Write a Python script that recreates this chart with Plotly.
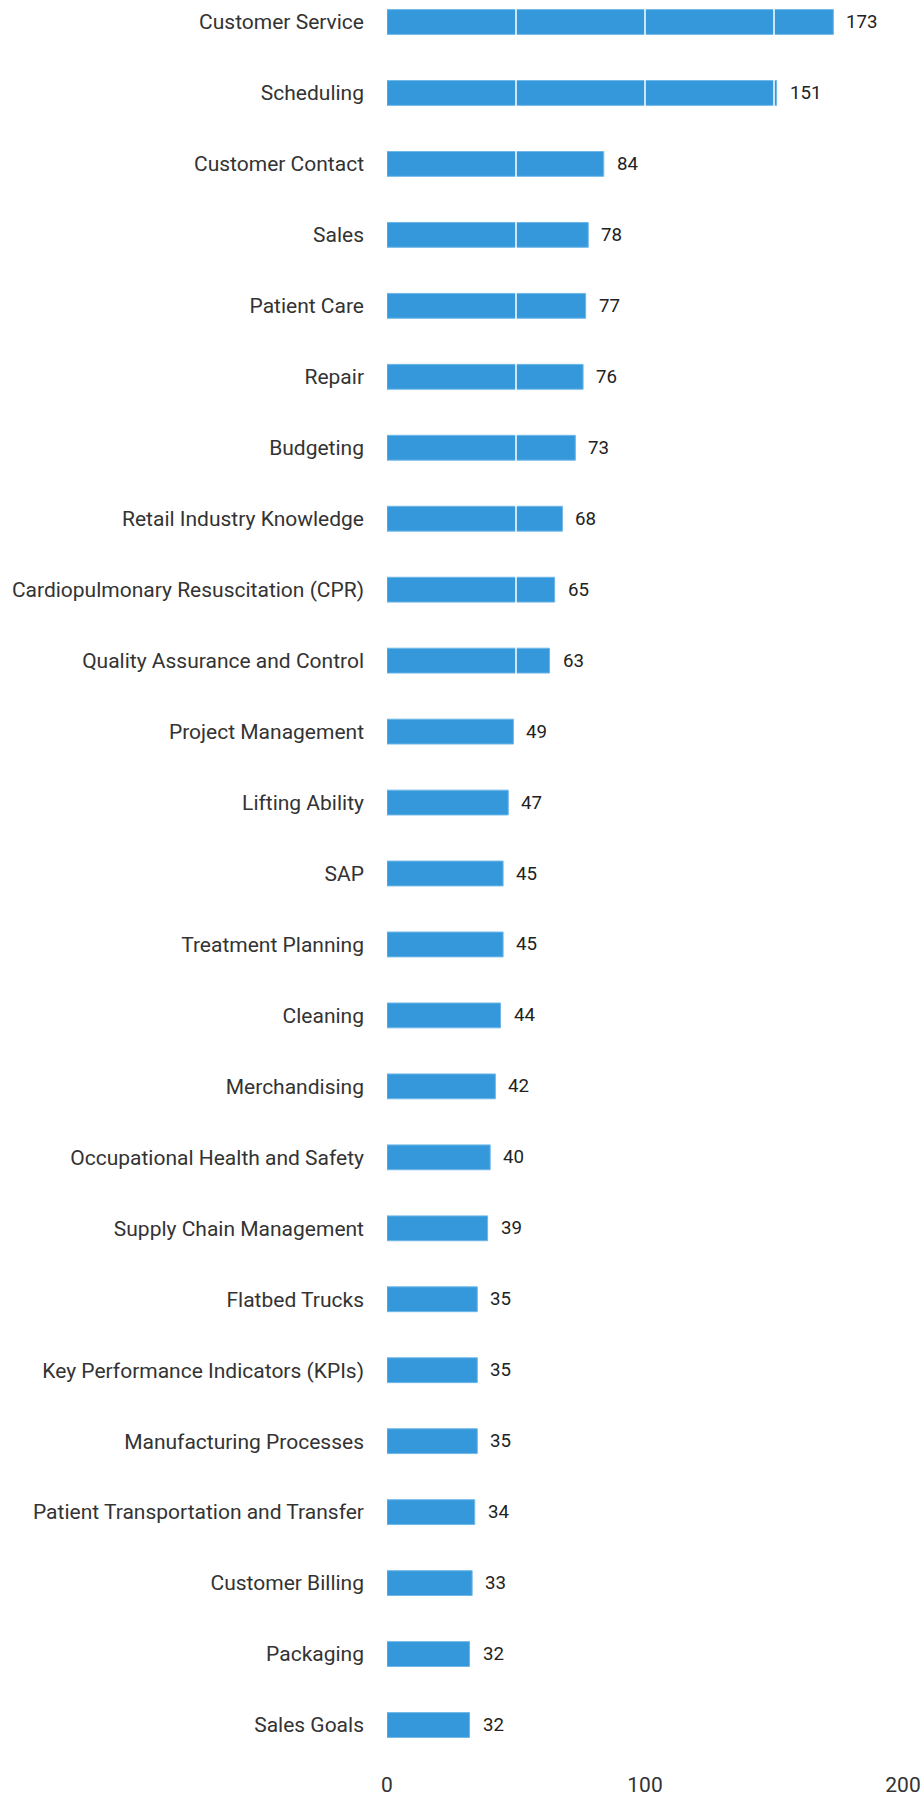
import plotly.graph_objects as go

categories = [
    "Customer Service", "Scheduling", "Customer Contact", "Sales", "Patient Care",
    "Repair", "Budgeting", "Retail Industry Knowledge",
    "Cardiopulmonary Resuscitation (CPR)", "Quality Assurance and Control",
    "Project Management", "Lifting Ability", "SAP", "Treatment Planning",
    "Cleaning", "Merchandising", "Occupational Health and Safety",
    "Supply Chain Management", "Flatbed Trucks",
    "Key Performance Indicators (KPIs)", "Manufacturing Processes",
    "Patient Transportation and Transfer", "Customer Billing", "Packaging",
    "Sales Goals",
]
values = [173, 151, 84, 78, 77, 76, 73, 68, 65, 63, 49, 47, 45, 45, 44, 42, 40,
          39, 35, 35, 35, 34, 33, 32, 32]

x_tick_values = [0, 100, 200]
grid_values = [50, 100, 150]

fig = go.Figure()
fig.add_trace(go.Bar(
    x=values,
    y=categories,
    orientation="h",
    marker=dict(color="#3498db", line=dict(color="#6fb7e8", width=1)),
    hoverinfo="skip",
))

shapes = [
    dict(type="line", xref="x", yref="paper", x0=g, x1=g, y0=0, y1=1,
         line=dict(color="white", width=1.5), layer="above")
    for g in grid_values
]

annotations = [
    dict(x=v, y=c, xref="x", yref="y", text=str(v), showarrow=False,
         xanchor="left", yanchor="middle", xshift=11,
         font=dict(family="Roboto", size=18.7, color="#222222"))
    for c, v in zip(categories, values)
]

n = len(categories)
fig.update_layout(
    width=924,
    height=1799,
    margin=dict(l=387, r=21, t=0, b=29, autoexpand=False),
    paper_bgcolor="white",
    plot_bgcolor="white",
    bargap=0.65,
    showlegend=False,
    shapes=shapes,
    annotations=annotations,
    font=dict(family="Roboto", color="#333333"),
    xaxis=dict(
        range=[0, 200],
        tickvals=x_tick_values,
        showgrid=False,
        zeroline=False,
        showline=False,
        ticks="",
        tickfont=dict(family="Roboto", size=21, color="#333333"),
        fixedrange=True,
    ),
    yaxis=dict(
        type="category",
        categoryorder="array",
        categoryarray=categories,
        range=[n - 1 + 0.634, -0.31],
        showgrid=False,
        zeroline=False,
        showline=False,
        ticks="",
        ticklabelstandoff=22,
        tickfont=dict(family="Roboto", size=21, color="#333333"),
        automargin=False,
        fixedrange=True,
    ),
)

fig.write_html(
    "out.html",
    config={"displayModeBar": False},
    post_script="document.body.style.margin='0';document.body.style.overflow='hidden';",
)
